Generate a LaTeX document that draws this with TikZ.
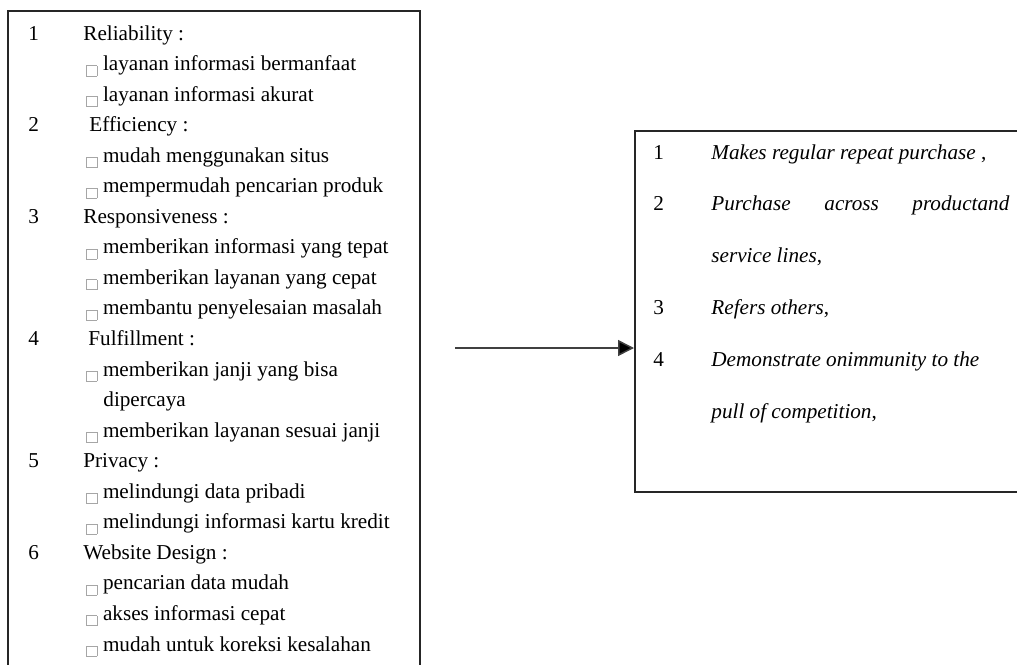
\documentclass[tikz,border=0pt]{standalone}
\usepackage{fontspec}
\setmainfont{Liberation Serif}
\usetikzlibrary{arrows.meta,positioning}
\newcommand{\kotak}{\raisebox{-2.5pt}{\textcolor{black!35}{\setlength{\fboxrule}{0.4pt}\setlength{\fboxsep}{0pt}\fbox{\rule{0pt}{4.7pt}\hspace{4.7pt}}}}\hspace{2.8pt}}
\tikzset{
  teks/.style={anchor=base west, inner sep=0pt, font=\fontsize{10.6pt}{12pt}\selectfont},
  kotakbesar/.style={draw=black!85, line width=0.8pt, anchor=north west, inner sep=0pt},
  panah/.style={draw=black!75, line width=0.75pt, -{Triangle[length=8pt,width=8pt,fill=black]}},
}

\begin{document}
\begin{tikzpicture}[x=0.5pt,y=-0.5pt]
\useasboundingbox (0,0) rectangle (1017,664);
\clip (0,0) rectangle (1017,664);
% kotak kualitas layanan
\node[kotakbesar, minimum width=206pt, minimum height=340pt] (kualitas) at (7,10) {};
\node[teks] (n1) at (28,40) {1};
\node[teks] (d1) at (83,40) {Reliability :};
\node[teks] (d1a) at (86,70.55) {\kotak layanan informasi bermanfaat};
\node[teks] (d1b) at (86,101.1) {\kotak layanan informasi akurat};
\node[teks] (n2) at (28,131.65) {2};
\node[teks] (d2) at (89,131.65) {Efficiency :};
\node[teks] (d2a) at (86,162.2) {\kotak mudah menggunakan situs};
\node[teks] (d2b) at (86,192.75) {\kotak mempermudah pencarian produk};
\node[teks] (n3) at (28,223.3) {3};
\node[teks] (d3) at (83,223.3) {Responsiveness :};
\node[teks] (d3a) at (86,253.85) {\kotak memberikan informasi yang tepat};
\node[teks] (d3b) at (86,284.4) {\kotak memberikan layanan yang cepat};
\node[teks] (d3c) at (86,314.95) {\kotak membantu penyelesaian masalah};
\node[teks] (n4) at (28,345.5) {4};
\node[teks] (d4) at (88,345.5) {Fulfillment :};
\node[teks] (d4a) at (86,376.05) {\kotak memberikan janji yang bisa};
\node[teks] (d4b) at (103,406.6) {dipercaya};
\node[teks] (d4c) at (86,437.15) {\kotak memberikan layanan sesuai janji};
\node[teks] (n5) at (28,467.7) {5};
\node[teks] (d5) at (83,467.7) {Privacy :};
\node[teks] (d5a) at (86,498.25) {\kotak melindungi data pribadi};
\node[teks] (d5b) at (86,528.8) {\kotak melindungi informasi kartu kredit};
\node[teks] (n6) at (28,559.35) {6};
\node[teks] (d6) at (83,559.35) {Website Design :};
\node[teks] (d6a) at (86,589.9) {\kotak pencarian data mudah};
\node[teks] (d6b) at (86,620.45) {\kotak akses informasi cepat};
\node[teks] (d6c) at (86,651) {\kotak mudah untuk koreksi kesalahan};
% kotak loyalitas
\node[kotakbesar, minimum width=198pt, minimum height=180.5pt] (loyalitas) at (634,130) {};
\node[teks] (m1) at (653,159) {1};
\node[teks] (l1) at (711,159) {\textit{Makes regular repeat purchase} ,};
\node[teks] (m2) at (653,210.8) {2};
\node[teks] (l2a) at (711,210.8) {\textit{Purchase}};
\node[teks] (l2b) at (824,210.8) {\textit{across}};
\node[teks] (l2c) at (912,210.8) {\textit{productand}};
\node[teks] (l2d) at (711,262.6) {\textit{service lines},};
\node[teks] (m3) at (653,314.4) {3};
\node[teks] (l3) at (711,314.4) {\textit{Refers others},};
\node[teks] (m4) at (653,366.2) {4};
\node[teks] (l4a) at (711,366.2) {\textit{Demonstrate onimmunity to the}};
\node[teks] (l4b) at (711,418) {\textit{pull of competition},};
% panah
\coordinate (pangkal) at (455,348);
\draw[panah] (pangkal) -- (pangkal -| loyalitas.west);
\end{tikzpicture}
\end{document}
